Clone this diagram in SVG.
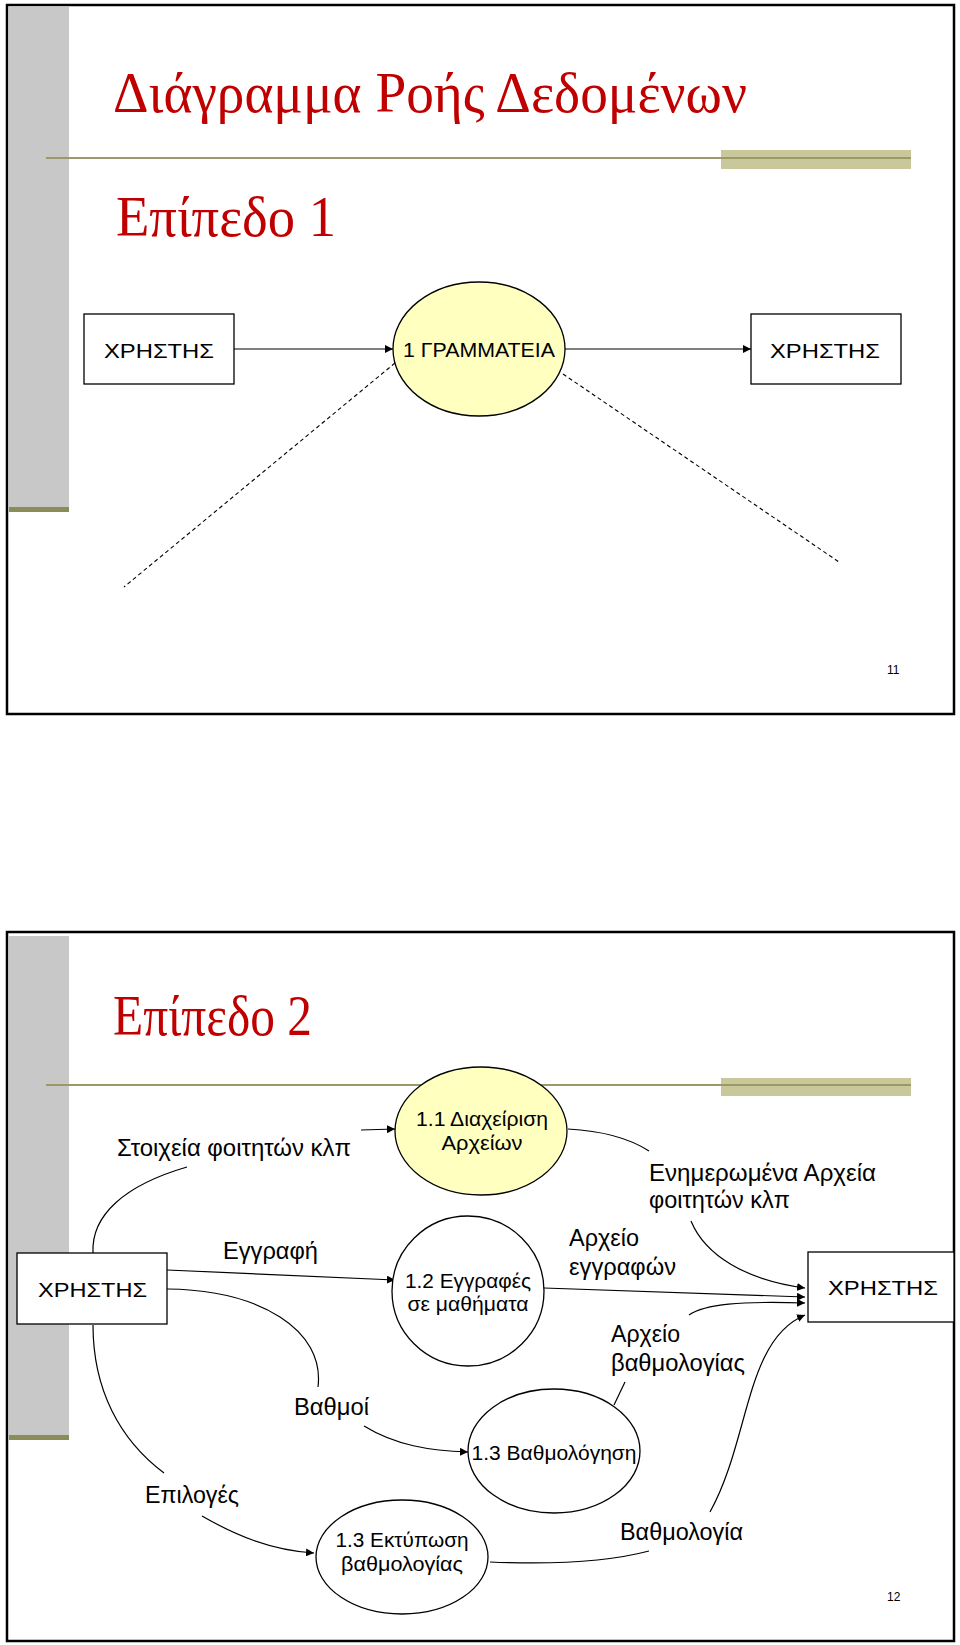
<svg xmlns="http://www.w3.org/2000/svg" width="960" height="1645" viewBox="0 0 960 1645">
<style>
.frame{fill:#fff;stroke:#000;stroke-width:2.5}
.side{fill:#c8c8c8}
.olive{fill:#8c8c5a}
.oline{stroke:#9a9a68;stroke-width:2}
.obar{fill:#c8c89a}
.title{font-family:"Liberation Serif",serif;fill:#c00000;font-size:56px}
.box{fill:#fff;stroke:#000;stroke-width:1.3}
.yel{fill:#ffffc0;stroke:#000;stroke-width:1.3}
.wh{fill:#fff;stroke:#000;stroke-width:1.3}
.t{font-family:"Liberation Sans",Arial,sans-serif;font-size:23px;fill:#000}
.tb{font-family:"Liberation Sans",Arial,sans-serif;font-size:21px;fill:#000}
.tc{font-family:"Liberation Sans",Arial,sans-serif;font-size:21px;fill:#000;text-anchor:middle}
.pg{font-family:"Liberation Sans",Arial,sans-serif;font-size:12px;fill:#000}
.c{fill:none;stroke:#000;stroke-width:1.2}
.d{fill:none;stroke:#000;stroke-width:1.1;stroke-dasharray:4,3}
</style>
<defs>
<marker id="ah" viewBox="0 0 10 10" refX="10" refY="5" markerWidth="8" markerHeight="8" orient="auto" markerUnits="userSpaceOnUse"><path d="M0,0 L10,5 L0,10 z" fill="#000"/></marker>
</defs>
<rect width="960" height="1645" fill="#fff"/>
<!-- slide 11 -->
<rect class="frame" x="7" y="5" width="947" height="709"/>
<rect class="side" x="9" y="7" width="60" height="501"/>
<rect class="olive" x="9" y="507" width="60" height="5"/>
<rect class="obar" x="721" y="150" width="190" height="19"/>
<line class="oline" x1="46" y1="158" x2="911" y2="158"/>
<text class="title" x="113" y="112" textLength="634" lengthAdjust="spacingAndGlyphs">Διάγραμμα Ροής Δεδομένων</text>
<text class="title" x="116" y="236" textLength="220" lengthAdjust="spacingAndGlyphs">Επίπεδο 1</text>
<g id="connectors1">
<line class="c" x1="234" y1="349" x2="393" y2="349" marker-end="url(#ah)"/>
<line class="c" x1="565" y1="349" x2="751" y2="349" marker-end="url(#ah)"/>
<line class="d" x1="395" y1="363" x2="124" y2="587"/>
<line class="d" x1="563" y1="374" x2="839" y2="562"/>
</g>
<g id="user1a"><rect class="box" x="84" y="314" width="150" height="70"/><text class="tb" x="104" y="358" textLength="110" lengthAdjust="spacingAndGlyphs">ΧΡΗΣΤΗΣ</text></g>
<g id="proc1"><ellipse class="yel" cx="479" cy="349" rx="86" ry="67"/><text class="tb" x="403" y="357" textLength="152" lengthAdjust="spacingAndGlyphs">1 ΓΡΑΜΜΑΤΕΙΑ</text></g>
<g id="user1b"><rect class="box" x="751" y="314" width="150" height="70"/><text class="tb" x="770" y="358" textLength="110" lengthAdjust="spacingAndGlyphs">ΧΡΗΣΤΗΣ</text></g>
<text class="pg" x="887" y="674">11</text>
<!-- slide 12 -->
<rect class="frame" x="7" y="932" width="947" height="709"/>
<rect class="side" x="9" y="936" width="60" height="499"/>
<rect class="olive" x="9" y="1435" width="60" height="5"/>
<rect class="obar" x="721" y="1078" width="190" height="18"/>
<line class="oline" x1="46" y1="1085" x2="911" y2="1085"/>
<text class="title" x="113" y="1035" textLength="199" lengthAdjust="spacingAndGlyphs">Επίπεδο 2</text>
<g id="connectors2">
<path class="c" d="M93,1253 C91,1215 125,1185 187,1167"/>
<path class="c" d="M361,1130 L395,1129" marker-end="url(#ah)"/>
<path class="c" d="M568,1129 C605,1131 632,1140 649,1151"/>
<path class="c" d="M691,1221 C705,1255 745,1280 805,1288" marker-end="url(#ah)"/>
<path class="c" d="M167,1270 L395,1280" marker-end="url(#ah)"/>
<path class="c" d="M544,1288 L805,1297" marker-end="url(#ah)"/>
<path class="c" d="M614,1405 L625,1382"/>
<path class="c" d="M689,1315 C705,1304 740,1301 805,1303" marker-end="url(#ah)"/>
<path class="c" d="M167,1289 C260,1290 325,1330 318,1387"/>
<path class="c" d="M364,1426 C395,1445 430,1451 468,1452" marker-end="url(#ah)"/>
<path class="c" d="M93,1325 C93,1390 120,1440 164,1473"/>
<path class="c" d="M202,1516 C235,1535 270,1550 314,1553" marker-end="url(#ah)"/>
<path class="c" d="M490,1562 C560,1565 615,1560 649,1551"/>
<path class="c" d="M710,1512 C750,1440 745,1340 805,1315" marker-end="url(#ah)"/>
</g>
<g id="user2a"><rect class="box" x="17" y="1253" width="150" height="71"/><text class="tb" x="38" y="1297" textLength="109" lengthAdjust="spacingAndGlyphs">ΧΡΗΣΤΗΣ</text></g>
<g id="user2b"><rect class="box" x="808" y="1252" width="146" height="70"/><text class="tb" x="828" y="1295" textLength="110" lengthAdjust="spacingAndGlyphs">ΧΡΗΣΤΗΣ</text></g>
<g id="p11"><ellipse class="yel" cx="481" cy="1131" rx="86" ry="64"/><text class="tc" x="482" y="1126" textLength="132" lengthAdjust="spacingAndGlyphs">1.1 Διαχείριση</text><text class="tc" x="482" y="1150" textLength="81" lengthAdjust="spacingAndGlyphs">Αρχείων</text></g>
<g id="p12"><ellipse class="wh" cx="468" cy="1291" rx="76" ry="75"/><text class="tc" x="468" y="1288" textLength="126" lengthAdjust="spacingAndGlyphs">1.2 Εγγραφές</text><text class="tc" x="468" y="1311" textLength="121" lengthAdjust="spacingAndGlyphs">σε μαθήματα</text></g>
<g id="p13"><ellipse class="wh" cx="554" cy="1451" rx="86" ry="62"/><text class="tc" x="554" y="1460" textLength="165" lengthAdjust="spacingAndGlyphs">1.3 Βαθμολόγηση</text></g>
<g id="p14"><ellipse class="wh" cx="402" cy="1557" rx="86" ry="57"/><text class="tc" x="402" y="1547" textLength="133" lengthAdjust="spacingAndGlyphs">1.3 Εκτύπωση</text><text class="tc" x="402" y="1571" textLength="122" lengthAdjust="spacingAndGlyphs">βαθμολογίας</text></g>
<g id="labels">
<text class="t" x="117" y="1156" textLength="234" lengthAdjust="spacingAndGlyphs">Στοιχεία φοιτητών κλπ</text>
<text class="t" x="649" y="1181" textLength="227" lengthAdjust="spacingAndGlyphs">Ενημερωμένα Αρχεία</text>
<text class="t" x="649" y="1208" textLength="141" lengthAdjust="spacingAndGlyphs">φοιτητών κλπ</text>
<text class="t" x="223" y="1259" textLength="95" lengthAdjust="spacingAndGlyphs">Εγγραφή</text>
<text class="t" x="569" y="1246" textLength="70" lengthAdjust="spacingAndGlyphs">Αρχείο</text>
<text class="t" x="569" y="1275" textLength="107" lengthAdjust="spacingAndGlyphs">εγγραφών</text>
<text class="t" x="611" y="1342" textLength="69" lengthAdjust="spacingAndGlyphs">Αρχείο</text>
<text class="t" x="611" y="1371" textLength="134" lengthAdjust="spacingAndGlyphs">βαθμολογίας</text>
<text class="t" x="294" y="1415" textLength="75" lengthAdjust="spacingAndGlyphs">Βαθμοί</text>
<text class="t" x="145" y="1503" textLength="94" lengthAdjust="spacingAndGlyphs">Επιλογές</text>
<text class="t" x="620" y="1540" textLength="123" lengthAdjust="spacingAndGlyphs">Βαθμολογία</text>
</g>
<text class="pg" x="887" y="1601">12</text>
</svg>
